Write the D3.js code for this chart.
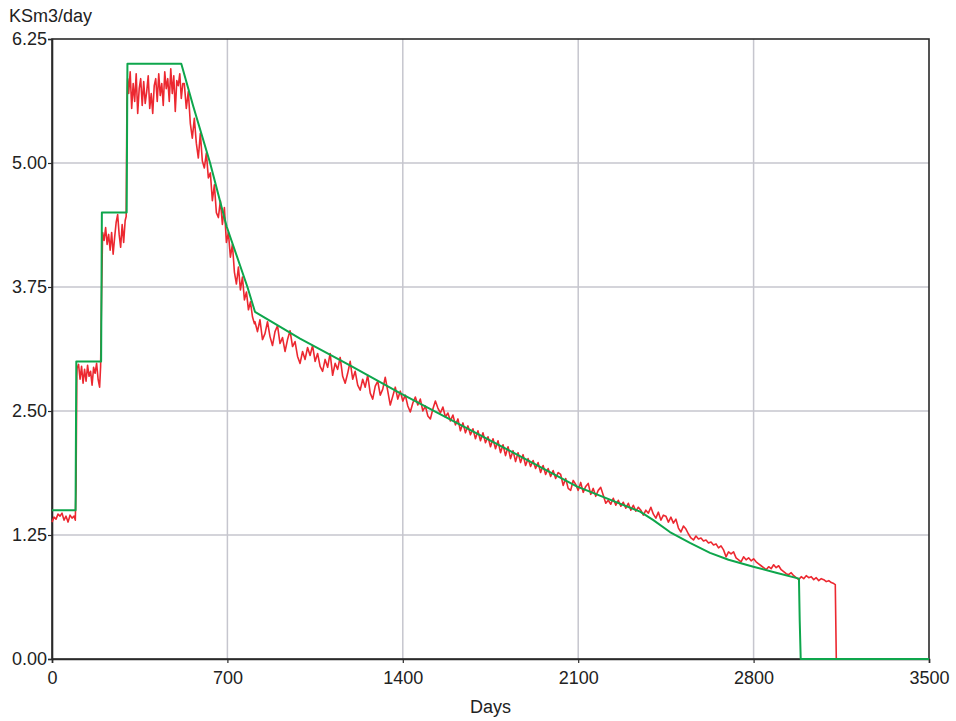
<!DOCTYPE html>
<html>
<head>
<meta charset="utf-8">
<script src="https://cdn.jsdelivr.net/npm/d3@7"></script>
<style>
  html, body { margin: 0; padding: 0; background: #ffffff; }
  svg { display: block; font-family: "Liberation Sans", Arial, sans-serif; }
</style>
</head>
<body>
<svg id="chart" width="956" height="721"></svg>
<script>
// Axis ticks
const xTicks = [0, 700, 1400, 2100, 2800, 3500];
const yTicks = [0, 1.25, 2.5, 3.75, 5.0, 6.25];
const xLabel = "Days";
const yLabel = "KSm3/day";

// Simulated gas rate (green): [day, KSm3/day]
const simulatedRate = [
  [0, 1.5], [94, 1.5], [97, 3.0], [196, 3.0], [199, 4.5], [298, 4.5], [301, 6.0],
  [516, 6.0], [564, 5.57], [631, 5.0], [697, 4.36], [780, 3.75], [810, 3.5],
  [990, 3.23], [1189, 2.96], [1389, 2.68], [1841, 2.08], [2094, 1.74],
  [2347, 1.485], [2400, 1.40], [2466, 1.28], [2546, 1.17], [2626, 1.07], [2700, 1.00],
  [2799, 0.93], [2890, 0.87], [2981, 0.81],
  [2984, 0.39], [2988, 0], [3500, 0]
];

// Measured gas rate (red): [day, KSm3/day]
const measuredRate = [
  [0,1.38],[8,1.43],[16,1.41],[24,1.46],[32,1.44],[40,1.47],[48,1.40],[56,1.44],[64,1.38],[72,1.45],
  [80,1.42],[88,1.44],[93,1.40],[96,1.75],[99,2.85],
  [100,2.93],[106,2.97],[112,2.82],[118,2.95],[124,2.78],[130,2.92],[136,2.80],[142,2.96],[148,2.85],
  [154,2.90],[160,2.76],[166,2.94],[172,2.88],[178,2.98],[184,2.82],[190,2.74],[194,2.95],[198,3.70],
  [202,4.30],[208,4.22],[214,4.35],[220,4.18],[226,4.28],[232,4.12],[238,4.30],[244,4.08],[250,4.25],
  [256,4.40],[262,4.48],[268,4.28],[274,4.15],[280,4.38],[286,4.20],[292,4.42],[296,4.46],[299,5.60],
  [302,5.85],[306,5.70],[312,5.92],[318,5.55],[324,5.80],[330,5.62],[336,5.90],[342,5.50],[348,5.75],
  [354,5.85],[360,5.58],[366,5.82],[372,5.60],[378,5.72],[384,5.88],[390,5.55],[396,5.70],[402,5.50],
  [408,5.78],[414,5.85],[420,5.62],[426,5.90],[432,5.68],[438,5.80],[444,5.58],[450,5.92],[456,5.75],
  [462,5.85],[468,5.62],[474,5.95],[480,5.70],[486,5.88],[492,5.52],[498,5.83],[504,5.78],[510,5.90],
  [516,5.65],[522,5.80],
  [528,5.80],[536,5.55],[544,5.72],[552,5.40],[560,5.25],[568,5.45],[576,5.20],[584,5.05],[592,5.30],
  [600,5.02],[608,4.95],[616,5.10],[624,4.85],[632,4.90],[640,4.62],[648,4.78],[656,4.50],[664,4.45],
  [672,4.62],[680,4.38],[688,4.55],[696,4.20],[704,4.30],[712,4.05],[720,4.18],[728,3.90],[736,3.78],
  [744,3.95],[752,3.72],[760,3.85],[768,3.62],[776,3.70],[784,3.52],[792,3.60],[800,3.45],[808,3.38],
  [810,3.40],[820,3.30],[830,3.42],[840,3.22],[850,3.28],[860,3.40],[870,3.25],[880,3.16],[890,3.30],
  [900,3.36],[910,3.18],[920,3.24],[930,3.10],[940,3.22],[950,3.31],[960,3.15],[970,3.20],[980,3.05],
  [990,2.98],[1000,3.10],[1010,3.02],[1020,3.14],[1030,3.06],[1040,3.16],[1050,3.00],[1060,3.08],
  [1070,2.95],[1080,2.90],[1090,3.02],[1100,2.94],[1110,3.08],[1120,2.86],[1130,2.98],[1140,2.92],
  [1150,3.04],[1160,2.85],[1170,2.78],[1180,2.88],[1190,3.00],[1200,2.82],[1210,2.90],[1220,2.76],
  [1230,2.71],[1240,2.82],[1250,2.74],[1260,2.86],[1270,2.68],[1280,2.62],[1290,2.75],[1300,2.80],
  [1310,2.66],[1320,2.72],[1330,2.84],[1340,2.70],[1350,2.56],[1360,2.65],[1370,2.74],[1380,2.62],
  [1390,2.70],[1400,2.60],[1410,2.66],[1420,2.55],[1430,2.49],[1440,2.58],[1450,2.64],[1460,2.56],
  [1470,2.62],[1480,2.50],[1490,2.55],[1500,2.45],[1510,2.42],[1520,2.52],[1530,2.60],[1540,2.53],
  [1550,2.48],[1560,2.54],[1570,2.44],[1580,2.48],[1590,2.40],[1600,2.46],[1610,2.36],[1620,2.42],
  [1630,2.30],[1640,2.38],[1650,2.28],[1660,2.35],[1670,2.26],[1680,2.32],[1690,2.22],[1700,2.30],
  [1710,2.20],[1720,2.28],[1730,2.18],[1740,2.24],[1750,2.14],[1760,2.22],[1770,2.12],[1780,2.20],
  [1790,2.08],[1800,2.16],[1810,2.05],[1820,2.14],[1830,2.02],[1840,2.10],[1850,1.99],[1860,2.08],
  [1870,1.98],[1880,2.06],[1890,1.95],[1900,2.02],[1910,1.94],[1920,2.00],[1930,1.92],[1940,1.98],
  [1950,1.88],[1960,1.95],[1970,1.86],[1980,1.92],[1990,1.84],[2000,1.90],[2010,1.82],[2020,1.88],
  [2030,1.86],[2040,1.75],[2050,1.82],[2060,1.72],[2070,1.70],[2080,1.80],[2090,1.76],[2100,1.70],
  [2110,1.78],[2120,1.68],[2130,1.74],[2140,1.77],[2150,1.66],[2160,1.72],[2170,1.64],[2180,1.70],
  [2190,1.73],[2200,1.65],[2210,1.57],[2220,1.60],[2230,1.56],[2240,1.62],[2250,1.55],[2260,1.60],
  [2270,1.54],[2280,1.58],[2290,1.52],[2300,1.57],[2310,1.50],[2320,1.55],[2330,1.49],[2340,1.53],
  [2350,1.50],[2360,1.45],[2370,1.50],[2380,1.47],[2390,1.53],[2400,1.46],[2410,1.42],[2420,1.48],
  [2430,1.40],[2440,1.45],[2450,1.44],[2460,1.38],[2470,1.43],[2480,1.37],[2490,1.41],[2500,1.32],
  [2510,1.28],[2520,1.34],[2530,1.31],[2540,1.26],[2550,1.22],[2560,1.20],[2570,1.24],[2580,1.21],
  [2590,1.22],[2600,1.19],[2610,1.20],[2620,1.17],[2630,1.18],[2640,1.15],[2650,1.16],[2660,1.12],
  [2670,1.14],[2680,1.10],[2690,1.03],[2700,1.08],[2710,1.06],[2720,1.08],[2730,1.02],[2740,1.00],
  [2750,0.98],[2760,1.03],[2770,1.00],[2780,1.02],[2790,0.99],[2800,1.01],[2810,0.98],[2820,0.96],
  [2830,0.94],[2840,0.92],[2850,0.90],[2860,0.93],[2870,0.91],[2880,0.95],[2890,0.92],[2900,0.94],
  [2910,0.90],[2920,0.88],[2930,0.86],[2940,0.85],[2950,0.87],[2960,0.84],[2970,0.82],[2980,0.80],
  [2990,0.83],[3000,0.81],[3010,0.84],[3020,0.82],[3030,0.83],[3040,0.80],[3050,0.82],[3060,0.79],
  [3070,0.81],[3080,0.80],[3090,0.78],[3100,0.79],[3110,0.77],[3120,0.76],[3126,0.75],[3130,0],
  [3500,0]
];

const colors = { measured: "#ec2830", simulated: "#0ea64c", grid: "#c6c6ce", axis: "#2a2a2a", text: "#222222" };

const svg = d3.select("#chart");
const W = 956, H = 721;
const margin = { top: 39, right: 27, bottom: 62, left: 52 };
const innerW = W - margin.left - margin.right;
const innerH = H - margin.top - margin.bottom;

const x = d3.scaleLinear().domain([0, 3500]).range([margin.left, margin.left + innerW]);
const y = d3.scaleLinear().domain([0, 6.25]).range([margin.top + innerH, margin.top]);

// Grid lines
const grid = svg.append("g");
grid.selectAll(".vg").data(xTicks.slice(1, -1)).join("line")
  .attr("x1", d => x(d)).attr("x2", d => x(d))
  .attr("y1", y(0)).attr("y2", y(6.25))
  .attr("stroke", colors.grid).attr("stroke-width", 1.5);
grid.selectAll(".hg").data(yTicks.slice(1, -1)).join("line")
  .attr("x1", x(0)).attr("x2", x(3500))
  .attr("y1", d => y(d)).attr("y2", d => y(d))
  .attr("stroke", colors.grid).attr("stroke-width", 1.5);

// Frame
svg.append("rect")
  .attr("x", x(0)).attr("y", y(6.25))
  .attr("width", x(3500) - x(0)).attr("height", y(0) - y(6.25))
  .attr("fill", "none").attr("stroke", colors.axis).attr("stroke-width", 1.6);

// Axes
const xAxis = svg.append("g")
  .attr("transform", `translate(0,${y(0)})`)
  .call(d3.axisBottom(x).tickValues(xTicks).tickFormat(d3.format("d")).tickSize(4).tickPadding(8));
const yAxis = svg.append("g")
  .attr("transform", `translate(${x(0)},0)`)
  .call(d3.axisLeft(y).tickValues(yTicks).tickFormat(d3.format(".2f")).tickSize(4).tickPadding(1));
[xAxis, yAxis].forEach(a => {
  a.select(".domain").attr("stroke", colors.axis).attr("stroke-width", 1.6);
  a.selectAll(".tick line").attr("stroke", colors.axis).attr("stroke-width", 1.2);
  a.selectAll(".tick text").attr("fill", colors.text)
    .style("font-size", "18px").style("font-family", "'Liberation Sans', Arial, sans-serif");
});

// Axis titles
svg.append("text")
  .attr("x", (x(0) + x(3500)) / 2).attr("y", 713)
  .attr("text-anchor", "middle").attr("fill", colors.text)
  .style("font-size", "18px").text(xLabel);
svg.append("text")
  .attr("x", 9).attr("y", 22)
  .attr("fill", colors.text)
  .style("font-size", "18px").text(yLabel);

// Series
const line = d3.line().x(d => x(d[0])).y(d => y(d[1]));
const plot = svg.append("g");
plot.append("path").datum(measuredRate)
  .attr("d", line).attr("fill", "none")
  .attr("stroke", colors.measured).attr("stroke-width", 1.6).attr("stroke-linejoin", "round");
plot.append("path").datum(simulatedRate)
  .attr("d", line).attr("fill", "none")
  .attr("stroke", colors.simulated).attr("stroke-width", 2).attr("stroke-linejoin", "round");
</script>
</body>
</html>
